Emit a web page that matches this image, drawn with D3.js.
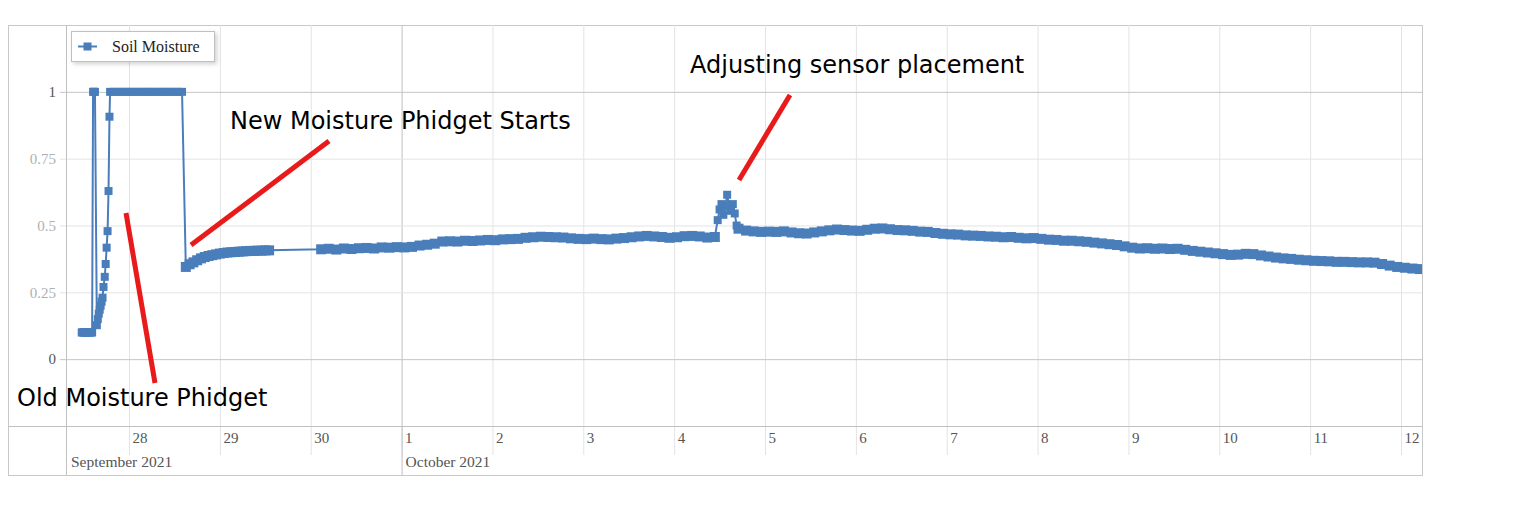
<!DOCTYPE html>
<html><head><meta charset="utf-8">
<script src="https://cdn.jsdelivr.net/npm/d3@7"></script>
<style>body{margin:0;background:#fff;} svg{display:block}</style>
</head><body><svg id="c" width="1521" height="518"></svg>
<script>
// ---------- DATA ----------
const seriesName = "Soil Moisture";
const yTicks = [0, 0.25, 0.5, 0.75, 1];
const yTickLabels = ["0", "0.25", "0.5", "0.75", "1"];
const monthLabels = ["September 2021", "October 2021"];
const monthStarts = ["2021-09-27 07:21", "2021-10-01 00:00"];
const xDomain = ["2021-09-27 07:21", "2021-10-12 05:33"];

// old sensor, irregular readings
const oldTimes = ["2021-09-27 11:30","2021-09-27 11:45","2021-09-27 12:00","2021-09-27 12:15","2021-09-27 12:30","2021-09-27 12:45",
  "2021-09-27 13:00","2021-09-27 13:15","2021-09-27 13:30","2021-09-27 13:45","2021-09-27 14:00","2021-09-27 14:15",
  "2021-09-27 14:30","2021-09-27 14:45","2021-09-27 15:00",
  "2021-09-27 15:30","2021-09-27 15:45","2021-09-27 16:00","2021-09-27 16:15","2021-09-27 16:30","2021-09-27 16:45",
  "2021-09-27 17:00","2021-09-27 17:15","2021-09-27 17:35","2021-09-27 17:50","2021-09-27 18:05","2021-09-27 18:20",
  "2021-09-27 18:35","2021-09-27 18:50"];
const oldValues = [0.1,0.1,0.1,0.1,0.1,0.1,0.1,0.1,0.1,0.1,0.1,0.1,
  1,1,1,
  0.127,0.15,0.17,0.185,0.2,0.215,0.23,0.27,0.308,0.356,0.417,0.479,0.629,0.907];
// old sensor saturated, hourly
const oldFlatStart = "2021-09-27 19:00";
const oldFlatValues = [1,1,1,1,1,1,1,1,1,1,1,1,1,1,1,1,1,1,1,1];
// new sensor, hourly
const newAStart = "2021-09-28 15:00";
const newAValues = [0.345,0.355,0.362,0.370,0.377,0.382,0.386,0.389,0.392,0.395,0.397,0.399,
  0.400,0.401,0.402,0.403,0.404,0.405,0.405,0.406,0.406,0.407,0.407];
// new sensor, every 2 hours
const newBStart = "2021-09-30 02:45";
const newBValues = [0.411,0.413,0.410,0.414,0.412,0.415,0.416,0.414,0.418,0.417,0.419,0.418,
  0.420,0.425,0.428,0.432,0.440,0.441,0.440,0.443,0.442,0.444,0.446,0.445,
  0.448,0.449,0.450,0.454,0.456,0.458,0.457,0.456,0.455,0.452,0.450,0.449,
  0.451,0.449,0.448,0.451,0.453,0.456,0.459,0.461,0.459,0.457,0.454,0.456,
  0.460,0.461,0.459,0.455,0.457];
// sensor adjustment, every 30 min
const spikeStart = "2021-10-04 11:30";
const spikeValues = [0.520,0.560,0.580,0.540,0.570,0.615,0.575,0.555,0.580,0.545,0.500];
// after adjustment, every 2 hours
const newCStart = "2021-10-04 17:00";
const newCValues = [0.488,0.481,0.478,0.476,0.477,0.476,0.478,0.474,0.471,0.470,0.474,0.478,
  0.482,0.485,0.483,0.481,0.480,0.484,0.488,0.489,0.486,0.483,0.482,0.480,
  0.477,0.476,0.472,0.469,0.467,0.466,0.463,0.462,0.461,0.459,0.458,0.456,
  0.457,0.454,0.452,0.453,0.450,0.447,0.446,0.443,0.443,0.441,0.439,0.436,
  0.433,0.430,0.427,0.422,0.417,0.414,0.415,0.413,0.414,0.412,0.413,0.409,
  0.405,0.402,0.399,0.396,0.393,0.390,0.391,0.394,0.393,0.388,0.384,0.380,
  0.377,0.375,0.372,0.370,0.368,0.367,0.366,0.364,0.364,0.363,0.362,0.362,
  0.361,0.356,0.350,0.345,0.342,0.339,0.337,0.333];

const annotations = [
  {text: "Old Moisture Phidget", x: 17, y: 406, line: [126, 213, 155, 383]},
  {text: "New Moisture Phidget Starts", x: 230, y: 129, line: [191, 245, 329, 141]},
  {text: "Adjusting sensor placement", x: 690, y: 73, line: [739, 180, 790, 95]}
];

// ---------- BUILD ----------
const parse = d3.timeParse("%Y-%m-%d %H:%M");
const data = [];
oldTimes.forEach((t, i) => data.push({t: parse(t), v: oldValues[i], dense: false}));
function addRegular(start, stepMin, vals, dense) {
  const s = parse(start);
  vals.forEach((v, i) => data.push({t: d3.timeMinute.offset(s, i * stepMin), v, dense}));
}
addRegular(oldFlatStart, 60, oldFlatValues, false);
addRegular(newAStart, 60, newAValues, true);
addRegular(newBStart, 120, newBValues, true);
addRegular(spikeStart, 30, spikeValues, false);
addRegular(newCStart, 120, newCValues, true);
data.sort((a, b) => a.t - b.t);

const L = 66, R = 1422, T = 25, B = 426, FL = 8, FB = 475;
const color = "#4a7ebb";
const serif = "'Liberation Serif', 'Times New Roman', serif";
const svg = d3.select("#c");
const x = d3.scaleTime().domain(xDomain.map(parse)).range([L, R]);
const y = d3.scaleLinear().domain([-0.25, 1.25]).range([B, T]);

// frame background
svg.append("rect").attr("x", FL + 0.5).attr("y", T + 0.5).attr("width", R - FL).attr("height", FB - T)
  .attr("fill", "#fff").attr("stroke", "#c8c8c8");

// vertical day gridlines (via axis)
const days = d3.timeDay.range(parse("2021-09-28 00:00"), parse("2021-10-13 00:00"));
const gx = svg.append("g").attr("transform", `translate(0,${T})`)
  .call(d3.axisBottom(x).tickValues(days).tickSize(B - T).tickFormat(""));
gx.select(".domain").remove();
gx.selectAll(".tick line").attr("stroke", d => d.getDate() === 1 ? "#c0c0c0" : "#e3e3e3");

// horizontal gridlines + y labels
const gy = svg.append("g").attr("transform", `translate(${R},0)`)
  .call(d3.axisLeft(y).tickValues(yTicks).tickSize(R - 60).tickPadding(4)
    .tickFormat((d, i) => yTickLabels[i]));
gy.select(".domain").remove();
gy.selectAll(".tick line").attr("stroke", d => (d === 0 || d === 1) ? "#c4c4c4" : "#e3e3e3");
gy.selectAll(".tick text").attr("font-family", serif)
  .attr("font-size", 15).attr("fill", d => (d === 0 || d === 1) ? "#555" : "#b0b0b0")
  .attr("x", -(R - 56)).attr("dy", "0.32em");

// bottom axis band
const gb = svg.append("g").attr("transform", `translate(0,${B})`)
  .call(d3.axisBottom(x).tickValues(days).tickSize(29).tickFormat(d3.timeFormat("%-d")));
gb.select(".domain").remove();
gb.selectAll(".tick line").attr("stroke", "#e3e3e3");
gb.selectAll(".tick text").attr("text-anchor", "start").attr("x", 3).attr("y", 6).attr("dy", "0.71em")
  .attr("font-family", serif).attr("font-size", 15).attr("fill", "#555");
// month separators
svg.append("line").attr("x1", x(parse(monthStarts[1])) + 0.5).attr("x2", x(parse(monthStarts[1])) + 0.5)
  .attr("y1", B).attr("y2", FB).attr("stroke", "#c0c0c0");
svg.append("line").attr("x1", L + 0.5).attr("x2", L + 0.5).attr("y1", T).attr("y2", FB).attr("stroke", "#c0c0c0");
svg.append("line").attr("x1", FL).attr("x2", R).attr("y1", B + 0.5).attr("y2", B + 0.5).attr("stroke", "#c0c0c0");
svg.selectAll("text.month").data(monthLabels).join("text").attr("class", "month")
  .attr("x", (d, i) => x(parse(monthStarts[i])) + (i === 0 ? 5 : 4)).attr("y", 467)
  .attr("font-family", serif).attr("font-size", 15.5).attr("fill", "#555")
  .text(d => d);

// series
svg.append("clipPath").attr("id", "clip").append("rect")
  .attr("x", L).attr("y", T).attr("width", R - L).attr("height", B - T);
const gs = svg.append("g").attr("clip-path", "url(#clip)");
gs.append("path").datum(data).attr("fill", "none").attr("stroke", color).attr("stroke-width", 2)
  .attr("d", d3.line().x(d => x(d.t)).y(d => y(d.v)));
const ms = d => d.dense ? 10 : 8;
gs.selectAll("rect.m").data(data).join("rect").attr("class", "m")
  .attr("x", d => x(d.t) - ms(d) / 2).attr("y", d => y(d.v) - ms(d) / 2)
  .attr("width", ms).attr("height", ms).attr("fill", color);

// legend
const defs = svg.append("defs");
const f = defs.append("filter").attr("id", "sh").attr("x", "-10%").attr("y", "-20%").attr("width", "130%").attr("height", "160%");
f.append("feDropShadow").attr("dx", 2).attr("dy", 2).attr("stdDeviation", 2).attr("flood-color", "#000").attr("flood-opacity", 0.18);
const lg = svg.append("g");
lg.append("rect").attr("x", 71.5).attr("y", 31.5).attr("width", 143).attr("height", 30)
  .attr("fill", "#fff").attr("stroke", "#c0c0c0").attr("filter", "url(#sh)");
lg.append("line").attr("x1", 78).attr("x2", 97).attr("y1", 46.5).attr("y2", 46.5).attr("stroke", color).attr("stroke-width", 2);
lg.append("rect").attr("x", 83.5).attr("y", 42.5).attr("width", 8).attr("height", 8).attr("fill", color);
lg.append("text").attr("x", 112).attr("y", 51.5).attr("font-family", serif)
  .attr("font-size", 16).attr("fill", "#222").text(seriesName);

// annotations
const ga = svg.append("g");
annotations.forEach(a => {
  ga.append("line").attr("x1", a.line[0]).attr("y1", a.line[1]).attr("x2", a.line[2]).attr("y2", a.line[3])
    .attr("stroke", "#e81a1a").attr("stroke-width", 5);
  ga.append("text").attr("x", a.x).attr("y", a.y).attr("font-family", "'DejaVu Sans', Verdana, sans-serif")
    .attr("font-size", 24).attr("fill", "#000").text(a.text);
});
</script></body></html>
